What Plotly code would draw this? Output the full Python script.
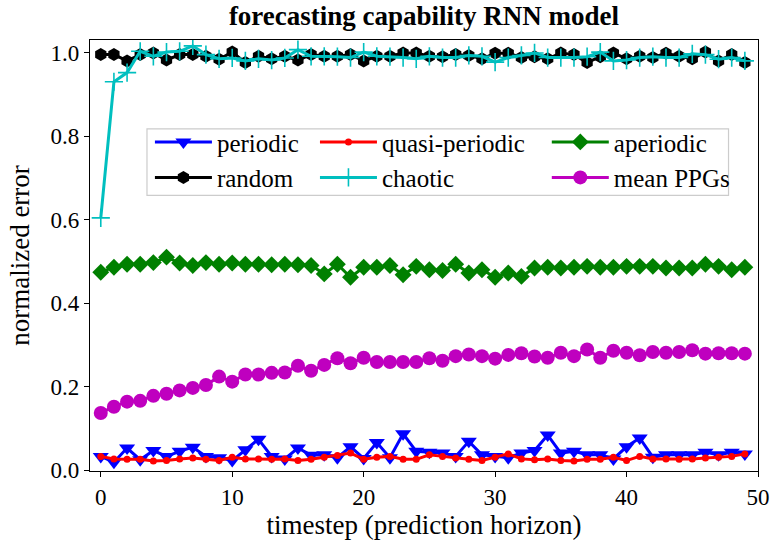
import plotly.graph_objects as go

# prediction horizon (timesteps)
timesteps = list(range(50))

periodic = [0.033, 0.019, 0.053, 0.025, 0.047, 0.033, 0.045, 0.055, 0.033, 0.030,
            0.023, 0.049, 0.074, 0.033, 0.027, 0.053, 0.036, 0.037, 0.030, 0.056,
            0.028, 0.066, 0.030, 0.087, 0.045, 0.043, 0.041, 0.033, 0.069, 0.037,
            0.033, 0.030, 0.041, 0.047, 0.084, 0.041, 0.045, 0.037, 0.037, 0.027,
            0.056, 0.077, 0.031, 0.037, 0.037, 0.037, 0.043, 0.037, 0.043, 0.039]

quasi_periodic = [0.033, 0.027, 0.026, 0.026, 0.022, 0.023, 0.027, 0.029, 0.026, 0.023,
                  0.031, 0.027, 0.027, 0.026, 0.027, 0.023, 0.026, 0.031, 0.035, 0.041,
                  0.026, 0.031, 0.033, 0.026, 0.026, 0.037, 0.033, 0.029, 0.026, 0.023,
                  0.031, 0.039, 0.027, 0.025, 0.027, 0.023, 0.022, 0.026, 0.026, 0.031,
                  0.023, 0.033, 0.027, 0.027, 0.026, 0.027, 0.029, 0.031, 0.033, 0.039]

aperiodic = [0.474, 0.486, 0.493, 0.493, 0.497, 0.510, 0.496, 0.490, 0.497, 0.493,
             0.496, 0.493, 0.493, 0.492, 0.493, 0.492, 0.490, 0.470, 0.493, 0.462,
             0.486, 0.486, 0.490, 0.468, 0.488, 0.480, 0.478, 0.493, 0.472, 0.480,
             0.462, 0.472, 0.464, 0.484, 0.486, 0.484, 0.486, 0.488, 0.486, 0.486,
             0.488, 0.488, 0.488, 0.484, 0.484, 0.484, 0.493, 0.488, 0.480, 0.486]

random_ = [0.995, 0.995, 0.980, 0.995, 0.999, 0.982, 0.995, 0.995, 0.991, 0.984,
           1.001, 0.976, 0.991, 0.985, 0.991, 0.982, 0.995, 0.991, 0.991, 0.995,
           0.980, 0.991, 0.991, 0.999, 0.999, 0.991, 0.990, 0.995, 0.993, 0.985,
           0.998, 0.998, 0.988, 0.990, 0.985, 0.999, 0.995, 0.976, 0.990, 0.999,
           0.985, 0.991, 0.988, 0.998, 0.991, 0.985, 1.001, 0.980, 0.995, 0.976]

chaotic = [0.604, 0.930, 0.952, 1.003, 0.991, 1.001, 1.003, 1.016, 0.995, 0.985,
           0.987, 0.980, 0.985, 0.982, 0.987, 1.007, 0.991, 0.991, 0.990, 0.988,
           1.001, 0.991, 0.990, 0.988, 0.985, 0.991, 0.988, 0.988, 0.993, 0.991,
           0.977, 0.988, 0.993, 0.999, 0.988, 0.988, 0.988, 0.990, 1.001, 0.980,
           0.982, 0.988, 0.990, 0.988, 0.988, 0.997, 0.995, 0.984, 0.988, 0.980]

mean_ppgs = [0.137, 0.152, 0.164, 0.166, 0.178, 0.183, 0.191, 0.197, 0.204, 0.224,
             0.212, 0.229, 0.229, 0.233, 0.234, 0.250, 0.238, 0.252, 0.268, 0.256,
             0.269, 0.259, 0.259, 0.259, 0.259, 0.268, 0.262, 0.273, 0.277, 0.273,
             0.267, 0.276, 0.280, 0.272, 0.269, 0.281, 0.273, 0.289, 0.269, 0.286,
             0.281, 0.275, 0.283, 0.281, 0.283, 0.287, 0.279, 0.280, 0.280, 0.279]

x_ticks = [0, 10, 20, 30, 40, 50]
y_ticks = [0.0, 0.2, 0.4, 0.6, 0.8, 1.0]

SERIF = "Liberation Serif, Times New Roman, serif"

series = [
    # name, values, colour, marker symbol, marker size, legend
    ("periodic", periodic, "#0000ff", "triangle-down", 14, "legend"),
    ("quasi-periodic", quasi_periodic, "#ff0000", "circle", 7, "legend2"),
    ("aperiodic", aperiodic, "#008000", "diamond", 13, "legend3"),
    ("random", random_, "#000000", "hexagon", 13, "legend"),
    ("chaotic", chaotic, "#00bfbf", "cross-thin", 13, "legend2"),
    ("mean PPGs", mean_ppgs, "#bf00bf", "circle", 14, "legend3"),
]

fig = go.Figure()
for name, vals, color, symbol, size, leg in series:
    marker = dict(symbol=symbol, size=size, color=color)
    if symbol == "cross-thin":
        marker["line"] = dict(color=color, width=1.6)
    else:
        marker["line"] = dict(width=0)
    fig.add_trace(go.Scatter(
        x=timesteps, y=vals, name=name, mode="lines+markers",
        line=dict(color=color, width=3), marker=marker, legend=leg,
    ))

# plot area: 90..770 px horizontally, 40..481 px vertically
L, R, T, B = 90, 12, 40, 64
W, H = 782, 545
pw, ph = W - L - R, H - T - B

def px_x(p):
    return (p - L) / pw

def px_y(p):
    return (H - B - p) / ph

legend_common = dict(
    yanchor="top", xanchor="left", bgcolor="rgba(0,0,0,0)", borderwidth=0,
    font=dict(family=SERIF, size=25, color="black"), itemwidth=57,
    tracegroupgap=0, orientation="v",
)

fig.update_layout(
    width=W, height=H,
    margin=dict(l=L, r=R, t=T, b=B),
    paper_bgcolor="white", plot_bgcolor="white",
    font=dict(family=SERIF, color="black"),
    title=dict(text="<b>forecasting capability RNN model</b>", xref="paper",
               x=0.5, xanchor="center", y=1 - 16 / H, yanchor="middle",
               font=dict(family=SERIF, size=27, color="black")),
    legend=dict(x=px_x(151), y=px_y(121), **legend_common),
    legend2=dict(x=px_x(319), y=px_y(121), **legend_common),
    legend3=dict(x=px_x(555), y=px_y(121), **legend_common),
    shapes=[dict(type="rect", xref="paper", yref="paper",
                 x0=px_x(148), x1=px_x(740), y0=px_y(199), y1=px_y(131),
                 line=dict(color="#cccccc", width=1.2),
                 fillcolor="rgba(255,255,255,0.8)", layer="above")],
)

axis_common = dict(
    showgrid=False, zeroline=False, showline=True, mirror=True,
    linecolor="black", linewidth=1.2, ticks="outside", ticklen=5,
    tickwidth=1.2, tickcolor="black",
    tickfont=dict(family=SERIF, size=23, color="black"),
)

fig.update_xaxes(range=[-0.82, 50.0], tickvals=x_ticks,
                 title=dict(text="timestep (prediction horizon)", standoff=4,
                            font=dict(family=SERIF, size=27, color="black")),
                 **axis_common)
fig.update_yaxes(range=[-0.002, 1.03], tickvals=y_ticks, tickformat=".1f",
                 title=dict(text="normalized error", standoff=13,
                            font=dict(family=SERIF, size=27, color="black")),
                 **axis_common)

fig.write_html("out.html")
